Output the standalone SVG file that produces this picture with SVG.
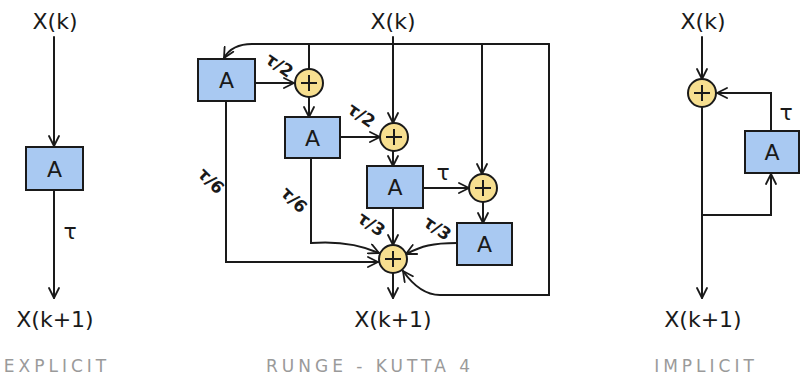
<svg xmlns="http://www.w3.org/2000/svg" width="802" height="375" viewBox="0 0 802 375">
<defs>
<marker id="arr" viewBox="0 0 12 12" refX="11" refY="6" markerWidth="12" markerHeight="12" markerUnits="userSpaceOnUse" orient="auto">
<path d="M1,1 L11,6 L1,11" fill="none" stroke="#1a1a1a" stroke-width="1.8" stroke-linecap="round" stroke-linejoin="round"/>
</marker>
<style>
.box{fill:#a9c9f2;stroke:#1a1a1a;stroke-width:2}
.sum{fill:#f7df90;stroke:#1a1a1a;stroke-width:2}
.plus{stroke:#1a1a1a;stroke-width:2;fill:none}
.ln{fill:none;stroke:#1a1a1a;stroke-width:2;stroke-linecap:round}
.ar{marker-end:url(#arr)}
.t{font-family:"DejaVu Sans","Liberation Sans",sans-serif;fill:#1a1a1a;text-anchor:middle}
.var{font-size:22px}
.a{font-size:22px}
.lab{font-size:17px;font-weight:bold}
.tau{font-size:22px}
.cap{font-family:"DejaVu Sans","Liberation Sans",sans-serif;font-size:17px;fill:#9a9a9a;text-anchor:middle;letter-spacing:4px}
</style>
</defs>

<g id="connectors" class="ln">
<!-- explicit -->
<path class="ar" d="M54,37 L54,146"/>
<path class="ar" d="M54,190 L54,298"/>
<!-- rk4 -->
<path d="M252,44 L549,44"/>
<path class="ar" d="M252,44 Q232,44 224,58"/>
<path d="M309,44 L309,69"/>
<path class="ar" d="M255,83 L294,83"/>
<path class="ar" d="M309,97 L309,117"/>
<path class="ar" d="M340,137 L380,137"/>
<path class="ar" d="M393,37 L393,123"/>
<path class="ar" d="M393,151 L393,166"/>
<path class="ar" d="M482,44 L482,174"/>
<path class="ar" d="M423,188 L469,188"/>
<path class="ar" d="M483,202 L483,223"/>
<path class="ar" d="M393,208 L393,245"/>
<path class="ar" d="M457,243 C432,243 422,246 406,254"/>
<path class="ar" d="M549,44 L549,295 L440,295 Q420,295 403,271"/>
<path class="ar" d="M226,101 L226,262 L378,262"/>
<path class="ar" d="M311,158 L311,243 Q350,240 379,253"/>
<path class="ar" d="M393,273 L393,298"/>
<!-- implicit -->
<path class="ar" d="M702,37 L702,79"/>
<path class="ar" d="M771,131 L771,93 L717,93"/>
<path class="ar" d="M702,108 L702,298"/>
<path class="ar" d="M702,215 L771,215 L771,174"/>
</g>

<g id="explicit-xk"><text class="t var" x="55" y="29">X(k)</text></g>
<g id="explicit-A"><rect class="box" x="26" y="147" width="57" height="43"/><text class="t a" x="54.5" y="177">A</text></g>
<g id="explicit-xk1"><text class="t var" x="55" y="327">X(k+1)</text></g>
<text class="t tau" x="70" y="239">τ</text>
<text class="cap" x="57" y="372">EXPLICIT</text>

<g id="rk-xk"><text class="t var" x="393" y="29">X(k)</text></g>
<g id="rk-A1"><rect class="box" x="198" y="59" width="57" height="42"/><text class="t a" x="226.5" y="88">A</text></g>
<g id="rk-S1"><circle class="sum" cx="309" cy="83" r="14"/><path class="plus" d="M301,83 H317 M309,75 V91"/></g>
<g id="rk-A2"><rect class="box" x="285" y="117" width="55" height="41"/><text class="t a" x="312.5" y="146">A</text></g>
<g id="rk-S2"><circle class="sum" cx="394" cy="137" r="14"/><path class="plus" d="M386,137 H402 M394,129 V145"/></g>
<g id="rk-A3"><rect class="box" x="367" y="166" width="56" height="42"/><text class="t a" x="395" y="195">A</text></g>
<g id="rk-S3"><circle class="sum" cx="483" cy="188" r="14"/><path class="plus" d="M475,188 H491 M483,180 V196"/></g>
<g id="rk-A4"><rect class="box" x="457" y="223" width="55" height="42"/><text class="t a" x="484.5" y="252">A</text></g>
<g id="rk-S4"><circle class="sum" cx="393" cy="259" r="14"/><path class="plus" d="M385,259 H401 M393,251 V267"/></g>
<g id="rk-xk1"><text class="t var" x="393" y="327">X(k+1)</text></g>
<text class="t lab" transform="translate(276,70) rotate(35)">τ/2</text>
<text class="t lab" transform="translate(358,120) rotate(35)">τ/2</text>
<text class="t tau" x="443" y="180">τ</text>
<text class="t lab" transform="translate(368,229) rotate(35)">τ/3</text>
<text class="t lab" transform="translate(434,233) rotate(35)">τ/3</text>
<text class="t lab" transform="translate(207,185) rotate(45)">τ/6</text>
<text class="t lab" transform="translate(290,204) rotate(45)">τ/6</text>
<text class="cap" x="370" y="372">RUNGE - KUTTA  4</text>

<g id="imp-xk"><text class="t var" x="703" y="29">X(k)</text></g>
<g id="imp-S"><circle class="sum" cx="702" cy="93" r="14"/><path class="plus" d="M694,93 H710 M702,85 V101"/></g>
<g id="imp-A"><rect class="box" x="745" y="131" width="54" height="42"/><text class="t a" x="772" y="160">A</text></g>
<g id="imp-xk1"><text class="t var" x="703" y="327">X(k+1)</text></g>
<text class="t tau" x="786" y="120">τ</text>
<text class="cap" x="706" y="372">IMPLICIT</text>
</svg>
